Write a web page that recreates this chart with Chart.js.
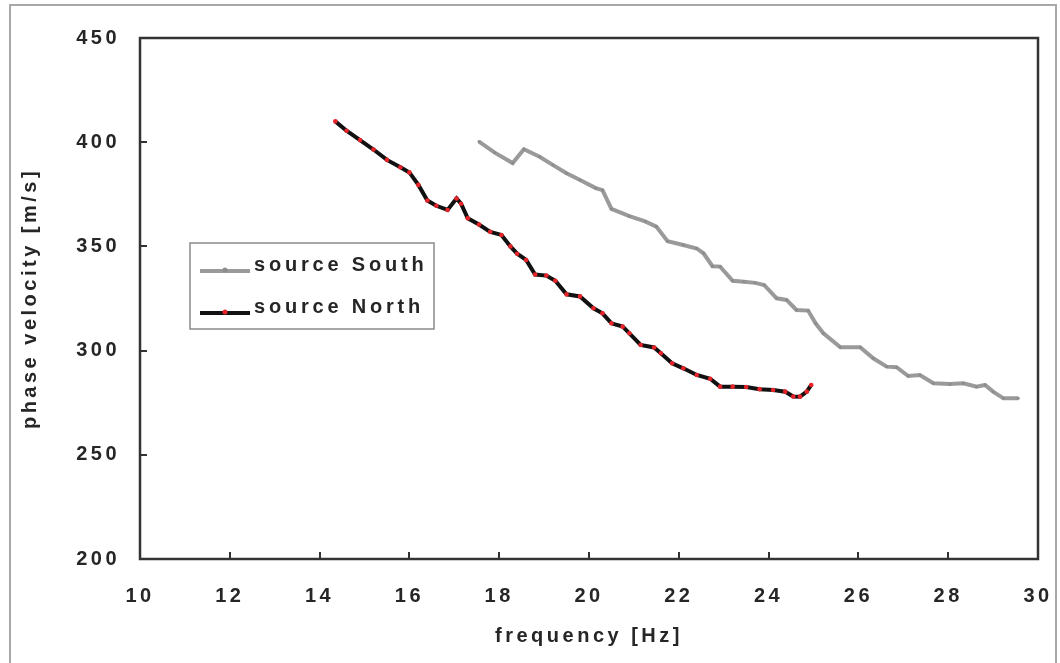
<!DOCTYPE html>
<html>
<head>
<meta charset="utf-8">
<script src="https://cdn.jsdelivr.net/npm/chart.js@4/dist/chart.umd.min.js"></script>
<style>
  html, body { margin: 0; padding: 0; background: #fff; }
  canvas { display: block; }
</style>
</head>
<body>
<canvas id="chart" width="1060" height="663"></canvas>
<script>
// dispersion curves, phase velocity vs frequency
const northFreq = [14.35, 14.6, 14.9, 15.2, 15.5, 15.8, 16.0, 16.2, 16.4, 16.6, 16.85, 17.05, 17.15, 17.3, 17.55,
  17.8, 18.05, 18.25, 18.4, 18.6, 18.8, 19.05, 19.25, 19.5, 19.8, 20.1, 20.3, 20.5, 20.75, 20.9, 21.15, 21.45,
  21.6, 21.85, 22.1, 22.4, 22.7, 22.92, 23.2, 23.5, 23.8, 24.1, 24.37, 24.55, 24.7, 24.85, 24.95];
const northVel = [410.0, 405.5, 401.0, 396.5, 391.5, 388.0, 385.5, 379.5, 372.0, 369.5, 367.5, 373.0, 370.5, 363.5, 360.5,
  357.0, 355.5, 350.0, 346.5, 343.5, 336.5, 336.0, 333.5, 327.0, 326.0, 320.3, 317.9, 313.1, 311.5, 308.3, 302.7, 301.5,
  298.7, 293.9, 291.5, 288.3, 286.5, 282.7, 282.7, 282.5, 281.5, 281.1, 280.3, 278.0, 277.9, 280.3, 283.5];

const southFreq = [17.55, 17.9, 18.3, 18.55, 18.9, 19.2, 19.5, 19.8, 20.15, 20.3, 20.5, 20.9, 21.25, 21.5, 21.75,
  22.1, 22.4, 22.55, 22.75, 22.92, 23.2, 23.45, 23.7, 23.9, 24.18, 24.4, 24.62, 24.88, 25.05, 25.22, 25.6, 26.04,
  26.33, 26.63, 26.85, 27.11, 27.37, 27.67, 28.04, 28.34, 28.63, 28.82, 29.0, 29.23, 29.56];
const southVel = [400.3, 395.0, 390.0, 396.6, 393.0, 389.0, 385.1, 381.9, 378.0, 377.0, 368.0, 364.5, 362.0, 359.5, 352.5,
  350.7, 349.0, 346.7, 340.5, 340.3, 333.5, 333.0, 332.5, 331.5, 325.1, 324.3, 319.5, 319.2, 313.0, 308.3, 301.6, 301.6,
  296.3, 292.3, 292.0, 287.8, 288.3, 284.3, 284.0, 284.3, 282.7, 283.5, 280.3, 277.1, 277.1];

const seriesNames = ['source South', 'source North'];
const xTitle = 'frequency [Hz]';
const yTitle = 'phase velocity [m/s]';

const FONT = "'Liberation Sans', Arial, sans-serif";
const TEXT = '#262626';

function toPoints(xs, ys) {
  return xs.map((x, i) => ({ x: x, y: ys[i] }));
}

// frame, inward ticks and the boxed legend
const framePlugin = {
  id: 'frame',
  beforeDraw(chart) {
    const ctx = chart.ctx;
    ctx.save();
    ctx.fillStyle = '#fff';
    ctx.fillRect(0, 0, chart.width, chart.height);
    ctx.strokeStyle = '#a8a8a8';
    ctx.lineWidth = 2;
    ctx.strokeRect(10, 5, chart.width - 14, chart.height - 4);
    ctx.restore();
    ctx.letterSpacing = '3.5px';
  },
  afterDatasetsDraw(chart) {
    const ctx = chart.ctx;
    const a = chart.chartArea;
    const xs = chart.scales.x, ys = chart.scales.y;
    ctx.save();
    ctx.strokeStyle = '#333';
    ctx.lineWidth = 2;
    xs.ticks.forEach(t => {
      const px = Math.round(xs.getPixelForValue(t.value));
      ctx.beginPath();
      ctx.moveTo(px, a.bottom);
      ctx.lineTo(px, a.bottom - 7);
      ctx.stroke();
    });
    ys.ticks.forEach(t => {
      const py = Math.round(ys.getPixelForValue(t.value));
      ctx.beginPath();
      ctx.moveTo(a.left, py);
      ctx.lineTo(a.left + 7, py);
      ctx.stroke();
    });
    ctx.lineWidth = 2.5;
    ctx.strokeRect(a.left, a.top, a.right - a.left, a.bottom - a.top);

    // legend box
    const lx = a.left + 50, ly = a.top + 205, lw = 244, lh = 86;
    ctx.fillStyle = '#fff';
    ctx.fillRect(lx, ly, lw, lh);
    ctx.strokeStyle = '#8a8a8a';
    ctx.lineWidth = 1.5;
    ctx.strokeRect(lx, ly, lw, lh);
    ctx.font = 'bold 20px ' + FONT;
    ctx.letterSpacing = '3.8px';
    ctx.textBaseline = 'middle';
    chart.data.datasets.forEach((ds, i) => {
      const cy = ly + 24 + i * 42;
      ctx.strokeStyle = ds.borderColor;
      ctx.lineWidth = 4;
      ctx.beginPath();
      ctx.moveTo(lx + 10, cy + 4);
      ctx.lineTo(lx + 60, cy + 4);
      ctx.stroke();
      ctx.fillStyle = ds.pointBackgroundColor;
      ctx.beginPath();
      ctx.arc(lx + 35, cy + 3, 2.5, 0, Math.PI * 2);
      ctx.fill();
      ctx.fillStyle = TEXT;
      ctx.fillText(ds.label, lx + 64, cy - 2);
    });
    ctx.restore();
  }
};

new Chart(document.getElementById('chart'), {
  type: 'line',
  data: {
    datasets: [{
      label: seriesNames[0],
      data: toPoints(southFreq, southVel),
      borderColor: '#9a9a9a',
      borderWidth: 4,
      pointRadius: 1.5,
      pointBackgroundColor: '#8c8c8c',
      pointBorderWidth: 0,
      tension: 0
    }, {
      label: seriesNames[1],
      data: toPoints(northFreq, northVel),
      borderColor: '#111',
      borderWidth: 4,
      pointRadius: 2.3,
      pointBackgroundColor: '#e8242a',
      pointBorderWidth: 0,
      tension: 0
    }]
  },
  options: {
    responsive: false,
    animation: false,
    devicePixelRatio: 1,
    layout: { padding: { top: 38, right: 22, left: 0, bottom: 0 } },
    plugins: { legend: { display: false }, tooltip: { enabled: false } },
    scales: {
      x: {
        type: 'linear',
        min: 10,
        max: 30,
        grid: { display: false },
        border: { display: false },
        ticks: {
          stepSize: 2,
          autoSkip: false,
          maxRotation: 0,
          padding: 17,
          color: TEXT,
          font: { family: FONT, size: 20, weight: 'bold' }
        },
        title: {
          display: true,
          text: xTitle,
          color: TEXT,
          font: { family: FONT, size: 20, weight: 'bold' },
          padding: { top: 0, bottom: 15 }
        },
        afterFit(scale) {
          scale.height = 104;
          scale.paddingLeft = 0;
          scale.paddingRight = 0;
        }
      },
      y: {
        min: 200,
        max: 450,
        grid: { display: false },
        border: { display: false },
        ticks: {
          stepSize: 50,
          padding: 12,
          color: TEXT,
          font: { family: FONT, size: 20, weight: 'bold' }
        },
        title: {
          display: true,
          text: yTitle,
          color: TEXT,
          font: { family: FONT, size: 20, weight: 'bold' },
          padding: { top: 18, bottom: 0 }
        },
        afterFit(scale) { scale.width = 140; }
      }
    }
  },
  plugins: [framePlugin]
});
</script>
</body>
</html>
